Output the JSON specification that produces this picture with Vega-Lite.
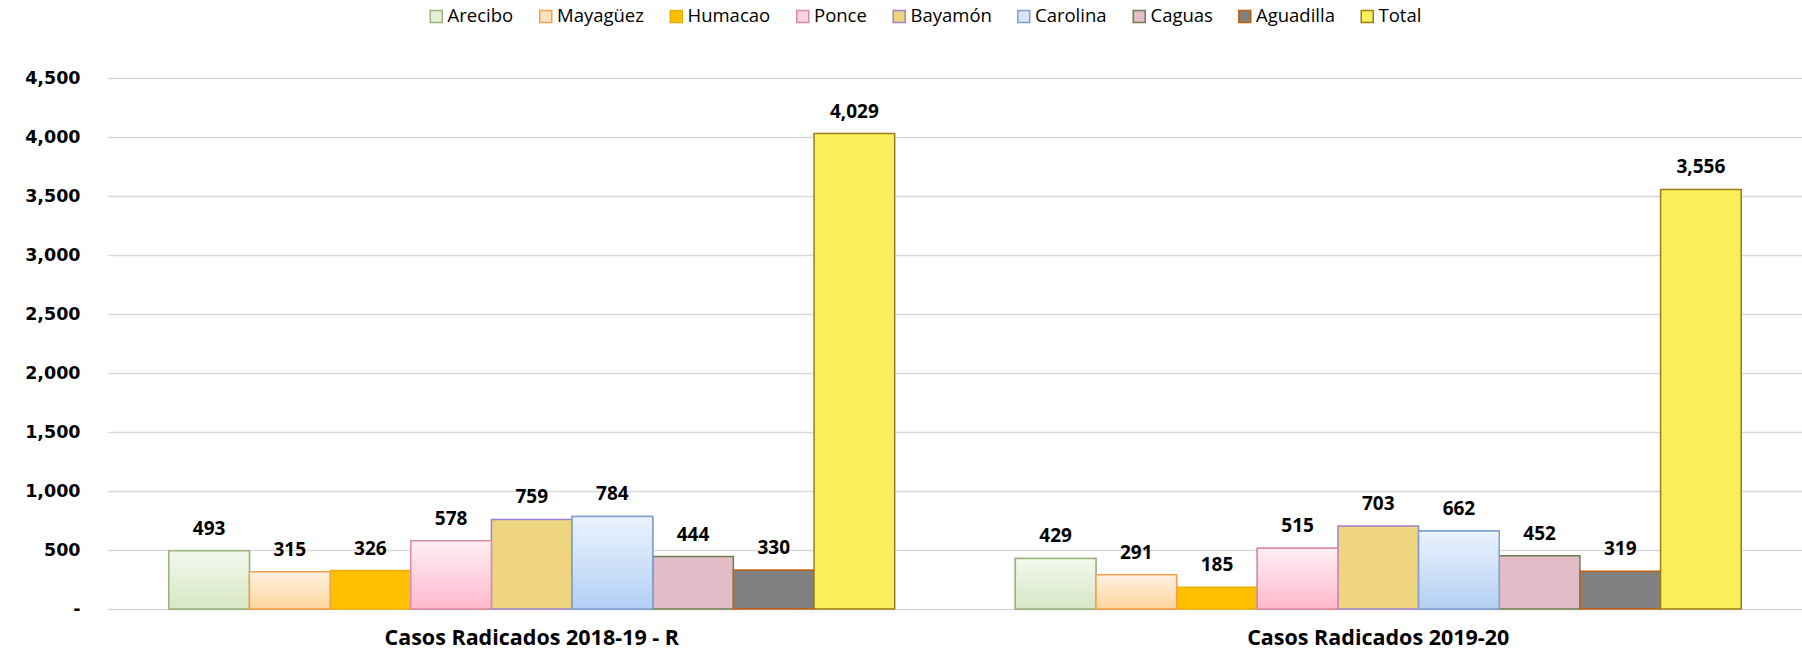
{
  "$schema": "https://vega.github.io/schema/vega-lite/v6.json",
  "width": 1694,
  "height": 531,
  "autosize": {"type": "none"},
  "padding": {"left": 108, "top": 78, "right": 0, "bottom": 52},
  "background": "white",
  "config": {
    "view": {"stroke": null},
    "font": "Open Sans"
  },
  "data": {
    "values": [
      {"period": "Casos Radicados 2018-19 - R", "region": "Arecibo", "cases": 493},
      {"period": "Casos Radicados 2018-19 - R", "region": "Mayagüez", "cases": 315},
      {"period": "Casos Radicados 2018-19 - R", "region": "Humacao", "cases": 326},
      {"period": "Casos Radicados 2018-19 - R", "region": "Ponce", "cases": 578},
      {"period": "Casos Radicados 2018-19 - R", "region": "Bayamón", "cases": 759},
      {"period": "Casos Radicados 2018-19 - R", "region": "Carolina", "cases": 784},
      {"period": "Casos Radicados 2018-19 - R", "region": "Caguas", "cases": 444},
      {"period": "Casos Radicados 2018-19 - R", "region": "Aguadilla", "cases": 330},
      {"period": "Casos Radicados 2018-19 - R", "region": "Total", "cases": 4029},
      {"period": "Casos Radicados 2019-20", "region": "Arecibo", "cases": 429},
      {"period": "Casos Radicados 2019-20", "region": "Mayagüez", "cases": 291},
      {"period": "Casos Radicados 2019-20", "region": "Humacao", "cases": 185},
      {"period": "Casos Radicados 2019-20", "region": "Ponce", "cases": 515},
      {"period": "Casos Radicados 2019-20", "region": "Bayamón", "cases": 703},
      {"period": "Casos Radicados 2019-20", "region": "Carolina", "cases": 662},
      {"period": "Casos Radicados 2019-20", "region": "Caguas", "cases": 452},
      {"period": "Casos Radicados 2019-20", "region": "Aguadilla", "cases": 319},
      {"period": "Casos Radicados 2019-20", "region": "Total", "cases": 3556}
    ]
  },
  "encoding": {
    "x": {
      "field": "period",
      "type": "nominal",
      "sort": null,
      "scale": {"paddingInner": 0.1425, "paddingOuter": 0.0718},
      "axis": {
        "title": null,
        "labelAngle": 0,
        "labelLimit": 0,
        "domain": false,
        "ticks": false,
        "labelPadding": 18,
        "labelFont": "Open Sans",
        "labelFontSize": 21.5,
        "labelFontWeight": "bold",
        "labelColor": "#000000"
      }
    },
    "xOffset": {
      "field": "region",
      "type": "nominal",
      "sort": ["Arecibo", "Mayagüez", "Humacao", "Ponce", "Bayamón", "Carolina", "Caguas", "Aguadilla", "Total"],
      "scale": {"paddingInner": 0, "paddingOuter": 0}
    },
    "y": {
      "field": "cases",
      "type": "quantitative",
      "scale": {"domain": [0, 4500], "nice": false},
      "axis": {
        "title": null,
        "values": [0, 500, 1000, 1500, 2000, 2500, 3000, 3500, 4000, 4500],
        "labelExpr": "datum.value == 0 ? '-' : format(datum.value, ',')",
        "domain": false,
        "ticks": false,
        "labelPadding": 28,
        "labelFont": "DejaVu Sans",
        "labelFontSize": 17.5,
        "labelFontWeight": "bold",
        "labelColor": "#000000",
        "gridColor": "#D9D9D9",
        "gridWidth": 1.5
      }
    }
  },
  "layer": [
    {
      "mark": {"type": "bar", "strokeWidth": 1.5},
      "encoding": {
        "fill": {
          "field": "region",
          "type": "nominal",
          "sort": ["Arecibo", "Mayagüez", "Humacao", "Ponce", "Bayamón", "Carolina", "Caguas", "Aguadilla", "Total"],
          "scale": {
            "domain": ["Arecibo", "Mayagüez", "Humacao", "Ponce", "Bayamón", "Carolina", "Caguas", "Aguadilla", "Total"],
            "range": ["#E5EFD9", "#FFE2BF", "#FFC000", "#FFD4E0", "#F0D580", "#D5E4F8", "#E4BCC8", "#808080", "#FCEE5A"]
          },
          "legend": {
            "title": null,
            "orient": "none",
            "direction": "horizontal",
            "legendX": 319,
            "legendY": -71,
            "symbolType": "square",
            "symbolSize": 144,
            "symbolStrokeWidth": 1.5,
            "labelFont": "Open Sans",
            "labelFontSize": 18.5,
            "labelColor": "#000000",
            "labelOffset": 2,
            "columnPadding": 22.5
          }
        },
        "stroke": {
          "field": "region",
          "type": "nominal",
          "sort": ["Arecibo", "Mayagüez", "Humacao", "Ponce", "Bayamón", "Carolina", "Caguas", "Aguadilla", "Total"],
          "scale": {
            "domain": ["Arecibo", "Mayagüez", "Humacao", "Ponce", "Bayamón", "Carolina", "Caguas", "Aguadilla", "Total"],
            "range": ["#9BB37E", "#F5A04C", "#E9B000", "#D98CA3", "#9C82C9", "#7FA0CC", "#6B7F4E", "#C0620F", "#9C7E12"]
          },
          "legend": {
            "title": null,
            "orient": "none",
            "direction": "horizontal",
            "legendX": 319,
            "legendY": -71,
            "symbolType": "square",
            "symbolSize": 144,
            "symbolStrokeWidth": 1.5,
            "labelFont": "Open Sans",
            "labelFontSize": 18.5,
            "labelColor": "#000000",
            "labelOffset": 2,
            "columnPadding": 22.5
          }
        }
      }
    },
    {
      "transform": [{"filter": "datum.region == 'Arecibo'"}],
      "mark": {
        "type": "bar",
        "strokeWidth": 1.5,
        "stroke": "#9BB37E",
        "fill": {"gradient": "linear", "x1": 0, "y1": 0, "x2": 0, "y2": 1,
          "stops": [{"offset": 0, "color": "#F3F8EE"}, {"offset": 1, "color": "#D7E7C5"}]}
      }
    },
    {
      "transform": [{"filter": "datum.region == 'Mayagüez'"}],
      "mark": {
        "type": "bar",
        "strokeWidth": 1.5,
        "stroke": "#F5A04C",
        "fill": {"gradient": "linear", "x1": 0, "y1": 0, "x2": 0, "y2": 1,
          "stops": [{"offset": 0, "color": "#FFF1E2"}, {"offset": 1, "color": "#FFD59C"}]}
      }
    },
    {
      "transform": [{"filter": "datum.region == 'Ponce'"}],
      "mark": {
        "type": "bar",
        "strokeWidth": 1.5,
        "stroke": "#D98CA3",
        "fill": {"gradient": "linear", "x1": 0, "y1": 0, "x2": 0, "y2": 1,
          "stops": [{"offset": 0, "color": "#FFEFF4"}, {"offset": 1, "color": "#FFB9CD"}]}
      }
    },
    {
      "transform": [{"filter": "datum.region == 'Carolina'"}],
      "mark": {
        "type": "bar",
        "strokeWidth": 1.5,
        "stroke": "#7FA0CC",
        "fill": {"gradient": "linear", "x1": 0, "y1": 0, "x2": 0, "y2": 1,
          "stops": [{"offset": 0, "color": "#EBF3FD"}, {"offset": 1, "color": "#B3D0F5"}]}
      }
    },
    {
      "mark": {
        "type": "text",
        "dy": -16,
        "baseline": "alphabetic",
        "font": "Open Sans",
        "fontSize": 19,
        "fontWeight": "bold",
        "color": "#000000"
      },
      "encoding": {
        "text": {"field": "cases", "type": "quantitative", "format": ","}
      }
    }
  ]
}
